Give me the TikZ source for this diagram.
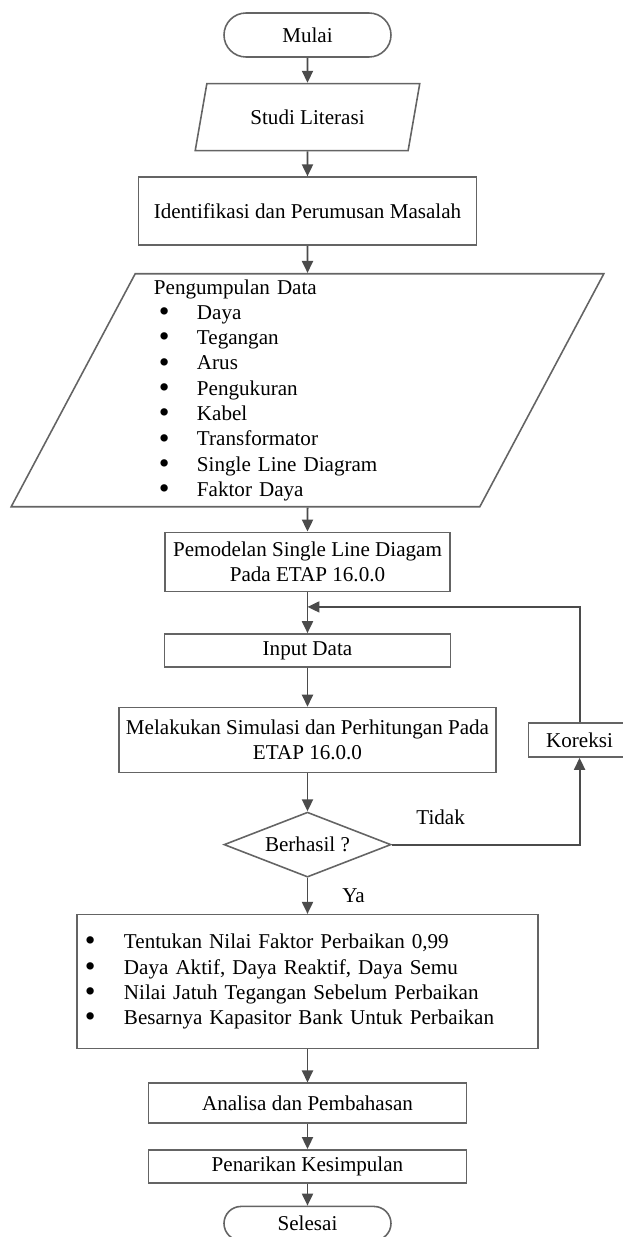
\documentclass[tikz,border=0pt]{standalone}
\usepackage{fontspec}
\setmainfont{Liberation Serif}
\usetikzlibrary{shapes.geometric,arrows.meta,positioning,calc}
\definecolor{framegray}{RGB}{100,100,100}
\definecolor{arrowgray}{RGB}{75,75,75}
\newcommand{\dotitem}[2]{\makebox[#1][l]{\smash{\raisebox{-0.1em}{\scalebox{1.45}{\textbullet}}}}#2}

\begin{document}
\begin{tikzpicture}[
  font=\fontsize{12}{14.4}\selectfont,
  terminal/.style={rectangle, rounded corners=0.44cm, draw=framegray,
    minimum width=3.34cm, minimum height=0.88cm, line width=0.9pt, inner sep=0pt},
  iobox/.style={trapezium, trapezium stretches=true, draw=framegray,
    line width=0.9pt, inner sep=0pt},
  process/.style={rectangle, draw=framegray, line width=0.9pt,
    inner sep=0pt, align=center},
  decision/.style={diamond, draw=framegray, line width=0.9pt, aspect=2.57,
    minimum width=3.34cm, minimum height=1.3cm, inner sep=0pt},
  arr/.style={-{Triangle[length=0.24cm,width=0.22cm]}, line width=1.1pt,
    draw=arrowgray},
]
\useasboundingbox (-6.15,0.70) rectangle (6.29,-24.04);

\node[terminal] (mulai) at (0,0) {Mulai};

\node[iobox, trapezium left angle=66, trapezium right angle=114,
      minimum width=4.52cm, minimum height=1.34cm, below=0.5cm of mulai] (studi)
  {Studi Literasi};

\node[process, minimum width=6.76cm, minimum height=1.36cm,
      below=0.5cm of studi] (ident)
  {Identifikasi dan Perumusan Masalah};

\node[iobox, trapezium left angle=63.5, trapezium right angle=116.5,
      minimum width=11.86cm, minimum height=4.66cm, text width=6.14cm,
      align=left, below=0.54cm of ident] (data)
  {Pengumpulan Data\\
   \hspace*{0.1cm}\dotitem{0.76cm}{Daya}\\
   \hspace*{0.1cm}\dotitem{0.76cm}{Tegangan}\\
   \hspace*{0.1cm}\dotitem{0.76cm}{Arus}\\
   \hspace*{0.1cm}\dotitem{0.76cm}{Pengukuran}\\
   \hspace*{0.1cm}\dotitem{0.76cm}{Kabel}\\
   \hspace*{0.1cm}\dotitem{0.76cm}{Transformator}\\
   \hspace*{0.1cm}\dotitem{0.76cm}{Single Line Diagram}\\
   \hspace*{0.1cm}\dotitem{0.76cm}{Faktor Daya}};

\node[process, minimum width=5.7cm, minimum height=1.18cm,
      below=0.48cm of data] (pemodelan)
  {Pemodelan Single Line Diagam\\Pada ETAP 16.0.0};

\node[process, minimum width=5.72cm, minimum height=0.66cm,
      below=0.82cm of pemodelan] (input)
  {Input Data};

\node[process, minimum width=7.54cm, minimum height=1.3cm,
      below=0.78cm of input] (simulasi)
  {Melakukan Simulasi dan Perhitungan Pada\\ETAP 16.0.0};

\node[process, minimum width=2.04cm, minimum height=0.68cm,
      right=0.62cm of simulasi] (koreksi)
  {Koreksi};

\node[decision, below=0.76cm of simulasi] (berhasil) {Berhasil ?};

\node[process, minimum width=9.22cm, minimum height=2.68cm, text width=8.9cm,
      align=left, below=0.72cm of berhasil] (hasil)
  {\dotitem{0.78cm}{Tentukan Nilai Faktor Perbaikan 0,99}\\
   \dotitem{0.78cm}{Daya Aktif, Daya Reaktif, Daya Semu}\\
   \dotitem{0.78cm}{Nilai Jatuh Tegangan Sebelum Perbaikan}\\
   \dotitem{0.78cm}{Besarnya Kapasitor Bank Untuk Perbaikan}};

\node[process, minimum width=6.36cm, minimum height=0.8cm,
      below=0.66cm of hasil] (analisa)
  {Analisa dan Pembahasan};

\node[process, minimum width=6.36cm, minimum height=0.66cm,
      below=0.5cm of analisa] (simpulan)
  {Penarikan Kesimpulan};

\node[terminal, minimum height=0.68cm, rounded corners=0.34cm,
      below=0.44cm of simpulan] (selesai) {Selesai};

% Arrows
\draw[arr] (mulai) -- (studi);
\draw[arr] (studi) -- (ident);
\draw[arr] (ident) -- (data);
\draw[arr] (data) -- (pemodelan);
\draw[arr] (pemodelan) -- (input);
\draw[arr] (input) -- (simulasi);
\draw[arr] (simulasi) -- (berhasil);
\draw[arr] (berhasil) -- node[right=0.56cm]{Ya} (hasil);
\draw[arr] (hasil) -- (analisa);
\draw[arr] (analisa) -- (simpulan);
\draw[arr] (simpulan) -- (selesai);

% Loop back
\coordinate (balik) at ($(pemodelan.south)!0.36!(input.north)$);
\draw[arr] (berhasil.east) -| node[above=0.26cm, pos=0.13]{Tidak} (koreksi.south);
\draw[arr] (koreksi.north) |- (balik);

\end{tikzpicture}
\end{document}
